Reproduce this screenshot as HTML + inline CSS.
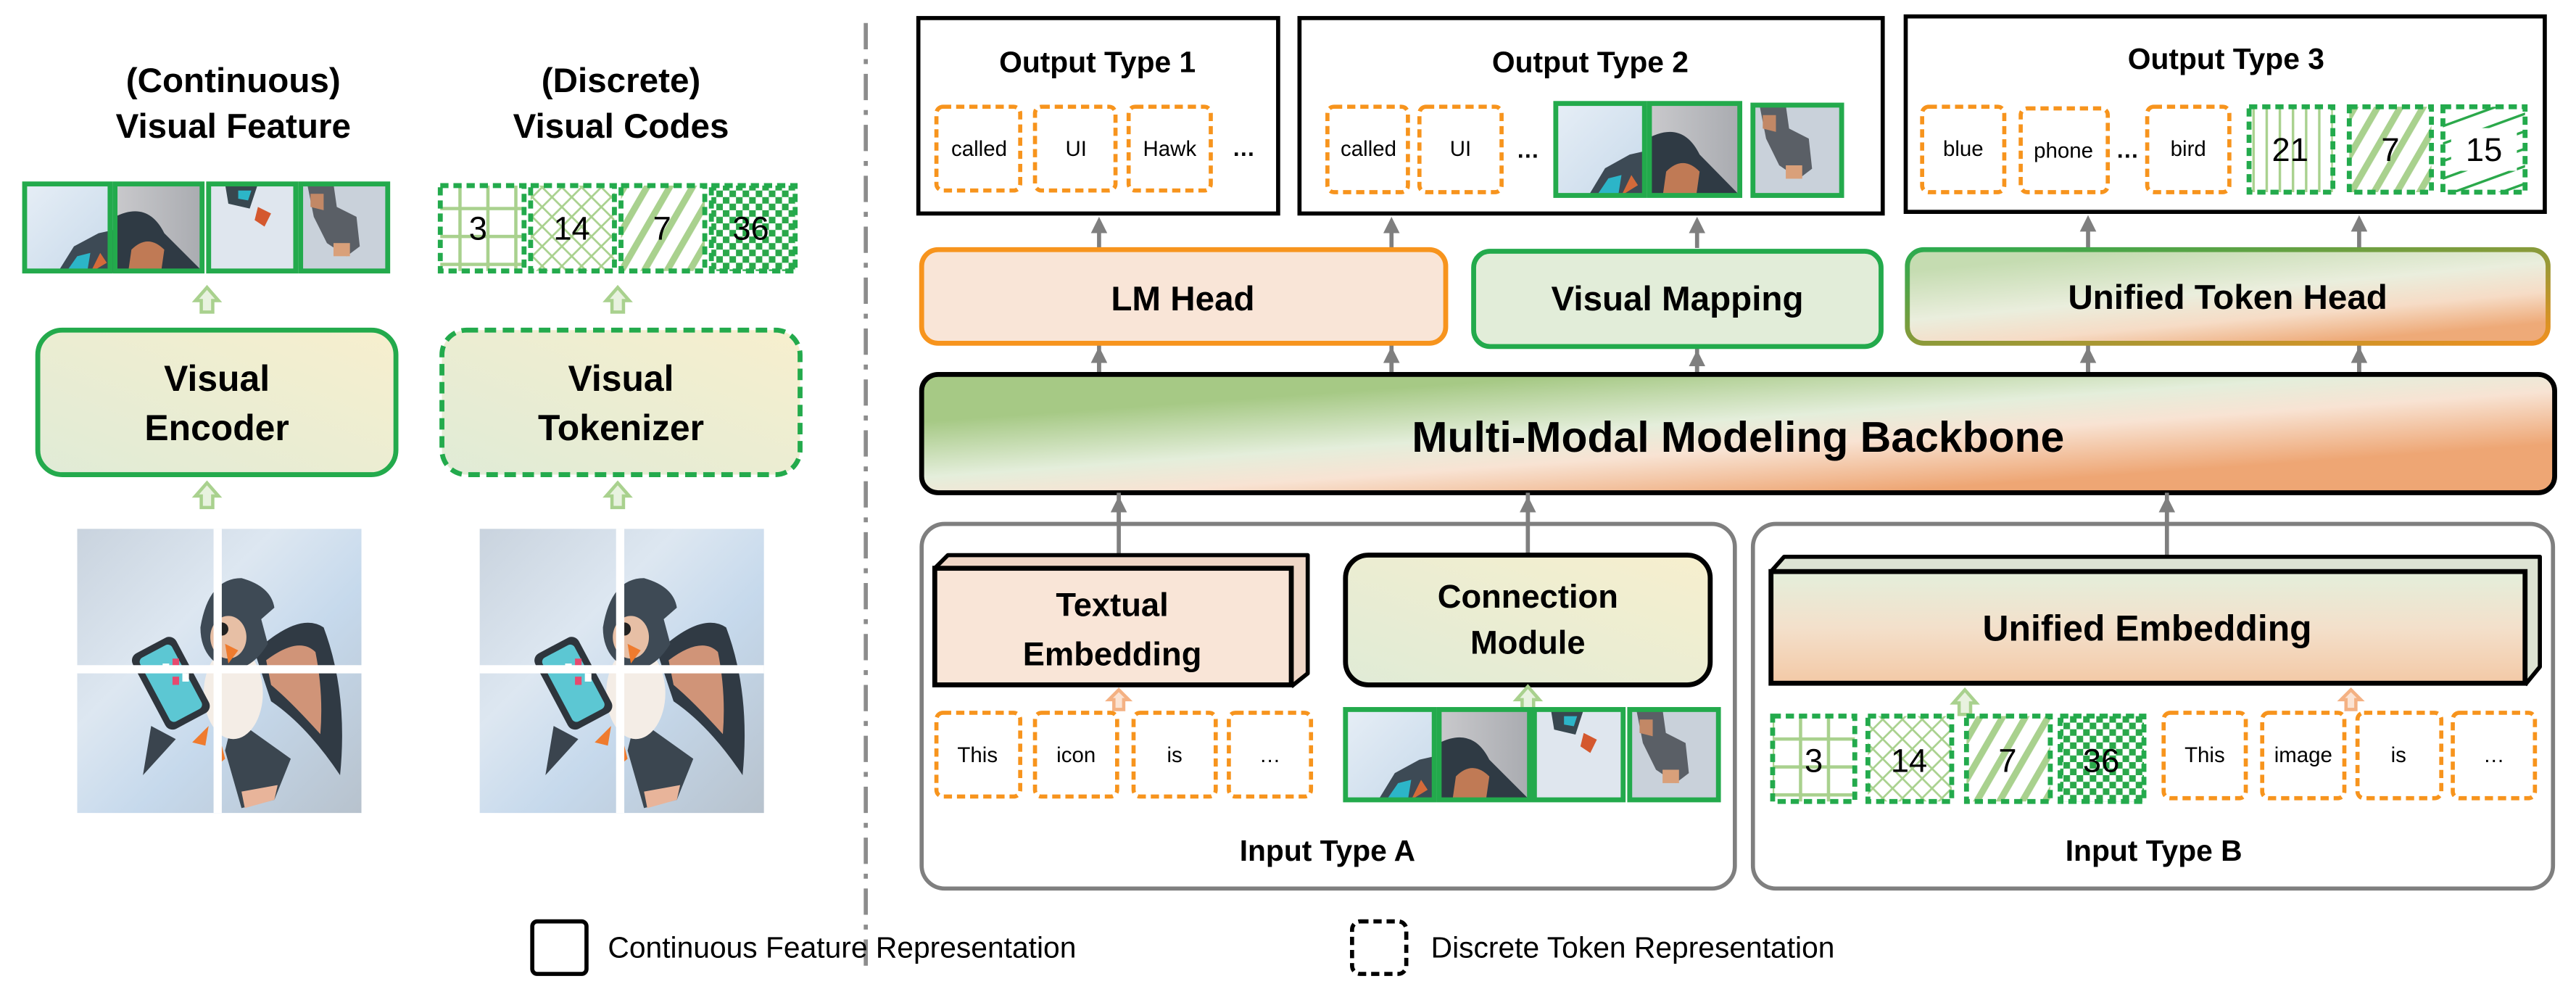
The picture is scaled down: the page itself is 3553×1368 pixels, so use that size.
<!DOCTYPE html>
<html><head><meta charset="utf-8"><style>
html,body{margin:0;padding:0;background:#fff;}
svg{display:block;}
text{font-family:"Liberation Sans Narrow","Liberation Sans",sans-serif;}
.b{font-weight:bold;}
</style></head><body>
<svg width="3553" height="1368" viewBox="0 0 1568 604" preserveAspectRatio="none" xmlns="http://www.w3.org/2000/svg">
<defs>
<linearGradient id="gy" x1="0" y1="1" x2="1" y2="0"><stop offset="0" stop-color="#e0ebd6"/><stop offset="1" stop-color="#f7efce"/></linearGradient>
<linearGradient id="bb" gradientUnits="userSpaceOnUse" x1="1050" y1="222" x2="1056" y2="306"><stop offset="0" stop-color="#a6c985"/><stop offset="0.4" stop-color="#e4eedb"/><stop offset="0.62" stop-color="#f8e3d3"/><stop offset="1" stop-color="#eea674"/></linearGradient>
<linearGradient id="uh" gradientUnits="userSpaceOnUse" x1="1350" y1="148" x2="1356" y2="214"><stop offset="0" stop-color="#c5dcb1"/><stop offset="0.45" stop-color="#eaeedd"/><stop offset="0.72" stop-color="#f6dcc6"/><stop offset="1" stop-color="#eeaa78"/></linearGradient>
<linearGradient id="uhs" x1="0" y1="0" x2="1" y2="1"><stop offset="0" stop-color="#2bab4f"/><stop offset="0.5" stop-color="#8a9a3a"/><stop offset="1" stop-color="#f0901f"/></linearGradient>
<linearGradient id="ue" x1="0" y1="0" x2="0" y2="1"><stop offset="0" stop-color="#e4efdb"/><stop offset="0.5" stop-color="#f3e0cb"/><stop offset="1" stop-color="#f3c9a6"/></linearGradient>
<linearGradient id="sky" x1="0" y1="0" x2="1" y2="1"><stop offset="0" stop-color="#c9d3de"/><stop offset="0.35" stop-color="#dde7f1"/><stop offset="0.6" stop-color="#c6d9ec"/><stop offset="1" stop-color="#b7c2cd"/></linearGradient>
<linearGradient id="t1" x1="0" y1="0" x2="1" y2="1"><stop offset="0" stop-color="#e6eef6"/><stop offset="1" stop-color="#c7d9ea"/></linearGradient>
<linearGradient id="t2" x1="0" y1="0" x2="1" y2="0"><stop offset="0" stop-color="#c9c9cc"/><stop offset="1" stop-color="#a9abb0"/></linearGradient>
<pattern id="pgrid" width="17" height="17" patternUnits="userSpaceOnUse"><path d="M0 8H17M8 0V17" stroke="#a9d18e" stroke-width="2"/></pattern>
<pattern id="pcross" width="12" height="12" patternUnits="userSpaceOnUse"><path d="M0 0L12 12M12 0L0 12" stroke="#a9d18e" stroke-width="1.2"/></pattern>
<pattern id="pdiag" width="12" height="12" patternUnits="userSpaceOnUse" patternTransform="rotate(30)"><rect width="4" height="12" fill="#a9d18e"/></pattern>
<pattern id="pdot" width="8" height="8" patternUnits="userSpaceOnUse"><rect width="4" height="4" fill="#2aa84a"/><rect x="4" y="4" width="4" height="4" fill="#2aa84a"/></pattern>
<pattern id="pstripe" width="10" height="10" patternUnits="userSpaceOnUse" patternTransform="rotate(70)"><rect width="1.5" height="10" fill="#2aa84a"/></pattern>
<pattern id="pv" width="8" height="8" patternUnits="userSpaceOnUse"><rect width="1.5" height="8" x="3" fill="#a9d18e"/></pattern>
<g id="tile1"><rect width="54" height="54" fill="url(#t1)"/><path d="M20 54 L30 38 L45 30 L54 28 L54 54Z" fill="#3d4a55"/><path d="M25 54 L32 44 L40 42 L38 54Z" fill="#2cb5c8"/><path d="M40 54 L46 42 L50 48 Z" fill="#d46a3a"/></g>
<g id="tile2"><rect width="54" height="54" fill="url(#t2)"/><path d="M0 20 Q20 10 30 30 Q45 45 54 54 L0 54Z" fill="#2f3a44"/><path d="M10 40 Q20 30 30 40 L28 54 L8 54Z" fill="#c07a55"/></g>
<g id="tile3"><rect width="54" height="54" fill="#dfe6ee"/><path d="M10 0 L30 0 L25 15 L12 12Z" fill="#38474f"/><path d="M18 4 L26 4 L24 10 L18 9Z" fill="#2cb5c8"/><path d="M30 14 L38 18 L34 26 L28 22Z" fill="#d4582e"/></g>
<g id="tile4"><rect width="54" height="54" fill="#c9d1da"/><path d="M4 0 L20 0 L22 14 L34 20 L36 38 L28 44 L16 36 L8 20Z" fill="#5a5f66"/><path d="M6 6 L14 6 L14 16 L6 14Z" fill="#c28866"/><rect x="20" y="36" width="10" height="8" fill="#d9a07a"/></g>
<g id="bird"><rect width="173" height="173" fill="url(#sky)"/>
<path d="M108 75 Q135 50 150 60 Q165 100 160 150 Q140 120 118 105Z" fill="#303a44"/>
<path d="M115 80 Q135 65 145 75 Q150 100 148 125 Q130 105 118 95Z" fill="#d09478"/>
<path d="M45 120 L40 150 L60 128Z" fill="#3a444e"/>
<path d="M95 115 L130 140 L120 165 L100 170 L90 135Z" fill="#3b4650"/>
<path d="M100 160 L122 156 L120 165 L102 170Z" fill="#e8b49a"/>
<ellipse cx="95" cy="100" rx="18" ry="28" fill="#f4ede6"/>
<path d="M75 60 Q80 30 100 30 Q118 35 120 48 L112 55 L116 70 Q105 88 90 85 Q75 78 75 60Z" fill="#3e4a55"/>
<ellipse cx="92" cy="66" rx="11" ry="13" fill="#e7bfa5"/>
<circle cx="88" cy="61" r="4" fill="#222"/>
<path d="M90 70 L98 74 L92 82Z" fill="#ef7b2e"/>
<rect x="42" y="68" width="30" height="52" rx="5" transform="rotate(-28 57 94)" fill="#2e353c"/>
<rect x="46" y="72" width="22" height="44" rx="3" transform="rotate(-28 57 94)" fill="#5cc7d3"/>
<rect x="52" y="82" width="4" height="5" fill="#fff"/><rect x="58" y="79" width="4" height="5" fill="#e64a6f"/><rect x="58" y="90" width="4" height="5" fill="#e64a6f"/><rect x="64" y="88" width="4" height="5" fill="#fff"/>
<path d="M80 120 L70 130 L78 132Z" fill="#ef7b2e"/><path d="M88 132 L84 145 L90 140Z" fill="#ef7b2e"/>
<rect x="83" y="0" width="5" height="173" fill="#fff"/><rect x="0" y="83" width="173" height="5" fill="#fff"/>
</g>
<g id="upg"><path d="M0 -8 L-7 0 L-3.5 0 L-3.5 7 L3.5 7 L3.5 0 L7 0Z" fill="#e8f2df" stroke="#a9d18e" stroke-width="2"/></g>
<g id="upo"><path d="M0 -6 L-6 0 L-3 0 L-3 6 L3 6 L3 0 L6 0Z" fill="#fbe3d3" stroke="#f4b183" stroke-width="2"/></g>
<marker id="ah" markerWidth="4" markerHeight="4" refX="2" refY="2" orient="auto" markerUnits="strokeWidth"><path d="M0 0L4 2L0 4Z" fill="#7f7f7f"/></marker>
</defs>

<text x="142" y="56" text-anchor="middle" class="b" font-size="21">(Continuous)</text>
<text x="142" y="84" text-anchor="middle" class="b" font-size="21">Visual Feature</text>
<text x="378" y="56" text-anchor="middle" class="b" font-size="21">(Discrete)</text>
<text x="378" y="84" text-anchor="middle" class="b" font-size="21">Visual Codes</text>

<use href="#tile1" transform="translate(15,112)"/><rect x="15" y="112" width="52" height="53" fill="none" stroke="#23aa4c" stroke-width="3"/>
<use href="#tile2" transform="translate(70,112)"/><rect x="70" y="112" width="53" height="53" fill="none" stroke="#23aa4c" stroke-width="3"/>
<use href="#tile3" transform="translate(127,112)"/><rect x="127" y="112" width="53" height="53" fill="none" stroke="#23aa4c" stroke-width="3"/>
<use href="#tile4" transform="translate(183,112)"/><rect x="183" y="112" width="53" height="53" fill="none" stroke="#23aa4c" stroke-width="3"/>

<rect x="268" y="113" width="51" height="52" fill="url(#pgrid)" stroke="#23aa4c" stroke-width="3" stroke-dasharray="5 3"/>
<rect x="323" y="113" width="51" height="52" fill="url(#pcross)" stroke="#23aa4c" stroke-width="3" stroke-dasharray="5 3"/>
<rect x="378" y="113" width="51" height="52" fill="url(#pdiag)" stroke="#23aa4c" stroke-width="3" stroke-dasharray="5 3"/>
<rect x="433" y="113" width="51" height="52" fill="url(#pdot)" stroke="#23aa4c" stroke-width="3" stroke-dasharray="5 3"/>
<g font-size="20" text-anchor="middle"><text x="291" y="146">3</text><text x="348" y="146">14</text><text x="403" y="146">7</text><text x="457" y="146">36</text></g>

<use href="#upg" transform="translate(126,183)"/><use href="#upg" transform="translate(376,183)"/>
<rect x="23" y="201" width="218" height="88" rx="15" fill="url(#gy)" stroke="#23aa4c" stroke-width="3"/>
<rect x="269" y="201" width="218" height="88" rx="15" fill="url(#gy)" stroke="#23aa4c" stroke-width="3" stroke-dasharray="7 4"/>
<text x="132" y="238" text-anchor="middle" class="b" font-size="22">Visual</text>
<text x="132" y="268" text-anchor="middle" class="b" font-size="22">Encoder</text>
<text x="378" y="238" text-anchor="middle" class="b" font-size="22">Visual</text>
<text x="378" y="268" text-anchor="middle" class="b" font-size="22">Tokenizer</text>
<use href="#upg" transform="translate(126,302)"/><use href="#upg" transform="translate(376,302)"/>
<use href="#bird" transform="translate(47,322)"/>
<use href="#bird" transform="translate(292,322)"/>

<line x1="527" y1="14" x2="527" y2="592" stroke="#8c8c8c" stroke-width="2.5" stroke-dasharray="16 6 3 6"/>

<rect x="559" y="11" width="219" height="119" fill="#fff" stroke="#000" stroke-width="2.5"/>
<rect x="791" y="11" width="355" height="119" fill="#fff" stroke="#000" stroke-width="2.5"/>
<rect x="1160" y="10" width="389" height="119" fill="#fff" stroke="#000" stroke-width="2.5"/>
<g class="b" font-size="18" text-anchor="middle"><text x="668" y="44">Output Type 1</text><text x="968" y="44">Output Type 2</text><text x="1355" y="42">Output Type 3</text></g>
<g fill="#fff" stroke="#f7941d" stroke-width="2.5" stroke-dasharray="5 3">
<rect x="570" y="65" width="51" height="51" rx="4"/><rect x="630" y="65" width="49" height="51" rx="4"/><rect x="687" y="65" width="50" height="51" rx="4"/>
<rect x="808" y="65" width="49" height="52" rx="4"/><rect x="864" y="65" width="50" height="52" rx="4"/>
<rect x="1170" y="65" width="50" height="52" rx="4"/><rect x="1230" y="66" width="53" height="51" rx="4"/><rect x="1307" y="65" width="50" height="52" rx="4"/>
</g>
<g font-size="13" text-anchor="middle"><text x="596" y="95">called</text><text x="655" y="95">UI</text><text x="712" y="95">Hawk</text>
<text x="833" y="95">called</text><text x="889" y="95">UI</text>
<text x="1195" y="95">blue</text><text x="1256" y="96">phone</text><text x="1332" y="95">bird</text></g>
<g class="b" font-size="14" text-anchor="middle"><text x="757" y="95">…</text><text x="930" y="96">…</text><text x="1295" y="96">…</text></g>
<svg x="947" y="63" width="54" height="56" viewBox="0 0 54 54" preserveAspectRatio="none"><use href="#tile1"/></svg><rect x="947" y="63" width="54" height="56" fill="none" stroke="#23aa4c" stroke-width="3"/>
<svg x="1004" y="63" width="55" height="56" viewBox="0 0 54 54" preserveAspectRatio="none"><use href="#tile2"/></svg><rect x="1004" y="63" width="55" height="56" fill="none" stroke="#23aa4c" stroke-width="3"/>
<svg x="1067" y="64" width="54" height="55" viewBox="0 0 54 54" preserveAspectRatio="none"><use href="#tile4"/></svg><rect x="1067" y="64" width="54" height="55" fill="none" stroke="#23aa4c" stroke-width="3"/>
<rect x="1369" y="65" width="51" height="52" fill="url(#pv)" stroke="#23aa4c" stroke-width="3" stroke-dasharray="5 3"/>
<rect x="1430" y="65" width="50" height="52" fill="url(#pdiag)" stroke="#23aa4c" stroke-width="3" stroke-dasharray="5 3"/>
<rect x="1487" y="65" width="50" height="52" fill="url(#pstripe)" stroke="#23aa4c" stroke-width="3" stroke-dasharray="5 3"/>
<rect x="1492" y="78" width="40" height="26" fill="#fff"/>
<g font-size="20" text-anchor="middle"><text x="1394" y="98">21</text><text x="1455" y="98">7</text><text x="1512" y="98">15</text></g>

<g stroke="#7f7f7f" stroke-width="2.5" marker-end="url(#ah)">
<line x1="669" y1="151" x2="669" y2="137"/><line x1="847" y1="151" x2="847" y2="137"/><line x1="1033" y1="151" x2="1033" y2="137"/><line x1="1271" y1="151" x2="1271" y2="136"/><line x1="1436" y1="151" x2="1436" y2="136"/>
<line x1="669" y1="227" x2="669" y2="216"/><line x1="847" y1="227" x2="847" y2="216"/><line x1="1033" y1="227" x2="1033" y2="218"/><line x1="1271" y1="227" x2="1271" y2="216"/><line x1="1436" y1="227" x2="1436" y2="216"/>
<line x1="681" y1="338" x2="681" y2="307"/><line x1="930" y1="337" x2="930" y2="307"/><line x1="1319" y1="339" x2="1319" y2="307"/>
</g>
<g stroke="#7f7f7f" stroke-width="2.5"><line x1="669" y1="209" x2="669" y2="227"/><line x1="847" y1="209" x2="847" y2="227"/><line x1="1033" y1="211" x2="1033" y2="227"/><line x1="1271" y1="209" x2="1271" y2="227"/><line x1="1436" y1="209" x2="1436" y2="227"/>
<line x1="681" y1="318" x2="681" y2="338"/><line x1="930" y1="318" x2="930" y2="337"/><line x1="1319" y1="318" x2="1319" y2="339"/></g>

<rect x="561" y="152" width="319" height="57" rx="10" fill="#f9e5d7" stroke="#f7941d" stroke-width="3"/>
<rect x="897" y="153" width="248" height="58" rx="10" fill="#e2edd9" stroke="#23aa4c" stroke-width="3"/>
<rect x="1161" y="152" width="390" height="57" rx="10" fill="url(#uh)" stroke="url(#uhs)" stroke-width="3"/>
<g class="b" font-size="21" text-anchor="middle"><text x="720" y="189">LM Head</text><text x="1021" y="189">Visual Mapping</text><text x="1356" y="188">Unified Token Head</text></g>

<rect x="561" y="228" width="994" height="72" rx="10" fill="url(#bb)" stroke="#000" stroke-width="3"/>
<text x="1058" y="275" text-anchor="middle" class="b" font-size="26">Multi-Modal Modeling Backbone</text>

<rect x="561" y="319" width="495" height="222" rx="14" fill="#fff" stroke="#7f7f7f" stroke-width="2.5"/>
<rect x="1067" y="319" width="487" height="222" rx="14" fill="#fff" stroke="#7f7f7f" stroke-width="2.5"/>
<line x1="681" y1="300" x2="681" y2="338" stroke="#7f7f7f" stroke-width="2.5"/>
<line x1="930" y1="300" x2="930" y2="337" stroke="#7f7f7f" stroke-width="2.5"/>
<line x1="1319" y1="300" x2="1319" y2="339" stroke="#7f7f7f" stroke-width="2.5"/>

<path d="M569 346 L577 338 L796 338 L796 410 L786 418" fill="#efd6c6" stroke="#000" stroke-width="2.5" stroke-linejoin="round"/>
<rect x="569" y="346" width="217" height="71" fill="#f9e5d7" stroke="#000" stroke-width="3"/>
<text x="677" y="375" text-anchor="middle" class="b" font-size="20">Textual</text>
<text x="677" y="405" text-anchor="middle" class="b" font-size="20">Embedding</text>
<rect x="819" y="338" width="222" height="79" rx="14" fill="url(#gy)" stroke="#000" stroke-width="3"/>
<text x="930" y="370" text-anchor="middle" class="b" font-size="20">Connection</text>
<text x="930" y="398" text-anchor="middle" class="b" font-size="20">Module</text>
<path d="M1078 348 L1086 339 L1546 339 L1546 406 L1537 417" fill="#dde3d3" stroke="#000" stroke-width="2.5" stroke-linejoin="round"/>
<rect x="1078" y="348" width="459" height="68" fill="url(#ue)" stroke="#000" stroke-width="3"/>
<text x="1307" y="390" text-anchor="middle" class="b" font-size="22">Unified Embedding</text>

<use href="#upo" transform="translate(681,426)"/><use href="#upg" transform="translate(930,426)"/>
<use href="#upg" transform="translate(1196,428)"/><use href="#upo" transform="translate(1431,426)"/>

<g fill="#fff" stroke="#f7941d" stroke-width="2.5" stroke-dasharray="5 3">
<rect x="570" y="434" width="51" height="51" rx="4"/><rect x="630" y="434" width="50" height="51" rx="4"/><rect x="690" y="434" width="50" height="51" rx="4"/><rect x="748" y="434" width="50" height="51" rx="4"/>
<rect x="1317" y="434" width="50" height="52" rx="4"/><rect x="1377" y="434" width="50" height="52" rx="4"/><rect x="1435" y="434" width="51" height="52" rx="4"/><rect x="1493" y="434" width="50" height="52" rx="4"/>
</g>
<g font-size="13" text-anchor="middle"><text x="595" y="464">This</text><text x="655" y="464">icon</text><text x="715" y="464">is</text><text x="773" y="464">…</text>
<text x="1342" y="464">This</text><text x="1402" y="464">image</text><text x="1460" y="464">is</text><text x="1518" y="464">…</text></g>

<svg x="819" y="432" width="54" height="55" viewBox="0 0 54 54" preserveAspectRatio="none"><use href="#tile1"/></svg><rect x="819" y="432" width="54" height="55" fill="none" stroke="#23aa4c" stroke-width="3"/>
<svg x="876" y="432" width="55" height="55" viewBox="0 0 54 54" preserveAspectRatio="none"><use href="#tile2"/></svg><rect x="876" y="432" width="55" height="55" fill="none" stroke="#23aa4c" stroke-width="3"/>
<svg x="934" y="432" width="54" height="55" viewBox="0 0 54 54" preserveAspectRatio="none"><use href="#tile3"/></svg><rect x="934" y="432" width="54" height="55" fill="none" stroke="#23aa4c" stroke-width="3"/>
<svg x="992" y="432" width="54" height="55" viewBox="0 0 54 54" preserveAspectRatio="none"><use href="#tile4"/></svg><rect x="992" y="432" width="54" height="55" fill="none" stroke="#23aa4c" stroke-width="3"/>

<rect x="1079" y="436" width="50" height="52" fill="url(#pgrid)" stroke="#23aa4c" stroke-width="3" stroke-dasharray="5 3"/>
<rect x="1137" y="436" width="51" height="52" fill="url(#pcross)" stroke="#23aa4c" stroke-width="3" stroke-dasharray="5 3"/>
<rect x="1197" y="436" width="51" height="52" fill="url(#pdiag)" stroke="#23aa4c" stroke-width="3" stroke-dasharray="5 3"/>
<rect x="1254" y="436" width="51" height="52" fill="url(#pdot)" stroke="#23aa4c" stroke-width="3" stroke-dasharray="5 3"/>
<g font-size="20" text-anchor="middle"><text x="1104" y="470">3</text><text x="1162" y="470">14</text><text x="1222" y="470">7</text><text x="1279" y="470">36</text></g>

<g class="b" font-size="18" text-anchor="middle"><text x="808" y="524">Input Type A</text><text x="1311" y="524">Input Type B</text></g>

<rect x="324" y="561" width="33" height="32" rx="3" fill="#fff" stroke="#000" stroke-width="2.5"/>
<text x="370" y="583" font-size="18">Continuous Feature Representation</text>
<rect x="823" y="561" width="33" height="32" rx="5" fill="#fff" stroke="#000" stroke-width="2.5" stroke-dasharray="5 3"/>
<text x="871" y="583" font-size="18">Discrete Token Representation</text>
</svg>
</body></html>
